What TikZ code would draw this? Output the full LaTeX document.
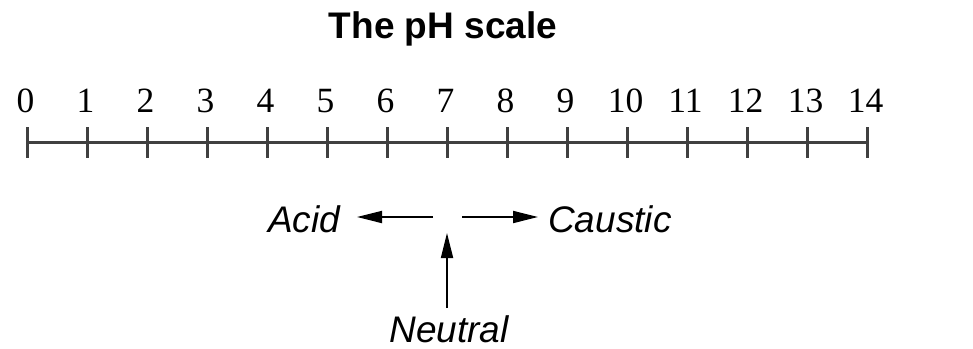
\documentclass[tikz,border=0pt]{standalone}
\usepackage{fontspec}
\setmainfont{Liberation Serif}
\newfontfamily\hsans{Liberation Sans}
\usetikzlibrary{arrows.meta}
\begin{document}
\begin{tikzpicture}[x=1pt,y=-1pt,
  axisline/.style={line width=3pt,draw=black!75},
  tickmark/.style={line width=3pt,draw=black!75},
  numlabel/.style={inner sep=0pt,anchor=base,font=\fontsize{35.5}{35.5}\selectfont},
  dirlabel/.style={inner sep=0pt,font=\hsans\itshape\fontsize{37}{37}\selectfont},
  pointer/.style={line width=1.8pt,-{Triangle[length=25pt,width=12pt]}}]
\useasboundingbox (0,0) rectangle (973,348);
\node[inner sep=0pt,anchor=base,font=\hsans\bfseries\fontsize{37}{37}\selectfont] (title) at (443,38) {The pH scale};
\coordinate (a0) at (27.5,142);
\coordinate (a14) at (867.5,142);
\draw[axisline] (a0) -- (a14);
\foreach \i in {0,...,14} {
  \coordinate (t\i) at ({27.5+60*\i},142);
  \draw[tickmark] ([yshift=-15.5pt]t\i) -- ([yshift=15.5pt]t\i);
  \node[numlabel] (n\i) at ({27.5+60*\i-2},112) {\i};
}
\node[dirlabel,anchor=base west] (acid) at (268,232) {Acid};
\node[dirlabel,anchor=base west] (caustic) at (548,232) {Caustic};
\node[dirlabel,anchor=base] (neutral) at (449,342) {Neutral};
\coordinate (ls) at (433,217);
\coordinate (lt) at (357,217);
\coordinate (rs) at (462,217);
\coordinate (rt) at (538,217);
\coordinate (us) at (447,308);
\coordinate (ut) at (447,233);
\draw[pointer] (ls) -- (lt);
\draw[pointer] (rs) -- (rt);
\draw[pointer] (us) -- (ut);
\end{tikzpicture}
\end{document}
